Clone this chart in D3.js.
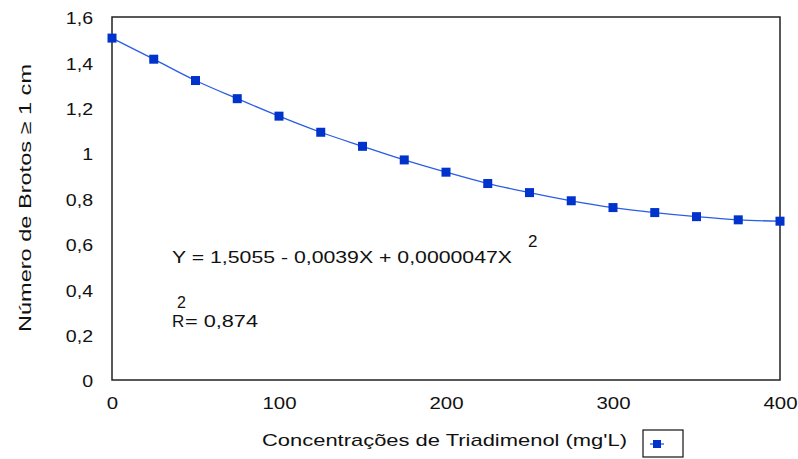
<!DOCTYPE html>
<html><head><meta charset="utf-8">
<script src="https://cdn.jsdelivr.net/npm/d3@7"></script>
<style>body{margin:0;background:#fff}svg{display:block;font-family:"Liberation Sans",Arial,sans-serif}</style>
</head><body><svg id="c" width="798" height="459"></svg>
<script>
const concentrations = [0,25,50,75,100,125,150,175,200,225,250,275,300,325,350,375,400];
const brotos = [1.507,1.414,1.320,1.240,1.163,1.092,1.030,0.970,0.916,0.866,0.826,0.790,0.760,0.738,0.720,0.706,0.700];
const yTicks = [0,0.2,0.4,0.6,0.8,1,1.2,1.4,1.6];
const xTicks = [0,100,200,300,400];

const svg = d3.select("#c");
const L=112,R=780,T=17,B=380;
const x = d3.scaleLinear().domain([0,400]).range([L,R]);
const y = d3.scaleLinear().domain([0,1.6]).range([B,T]);
const fmt = d => String(d).replace(".",",");
const FS = 17;
function stretch(sel, k){ sel.each(function(){ const w=this.getComputedTextLength(); d3.select(this).attr("textLength",w*k).attr("lengthAdjust","spacingAndGlyphs"); }); }

svg.append("rect").attr("x",L).attr("y",T).attr("width",R-L).attr("height",B-T)
  .attr("fill","none").attr("stroke","#222").attr("stroke-width",1.5);

const ya = svg.append("g").attr("transform",`translate(${L},0)`)
  .call(d3.axisLeft(y).tickValues(yTicks).tickFormat(fmt).tickSize(0).tickPadding(19));
ya.select(".domain").remove();
ya.selectAll("text").attr("font-size",FS).attr("fill","#111").attr("font-family","Liberation Sans, Arial, sans-serif").attr("dy","0.4em");
stretch(ya.selectAll("text"),1.15);

const xa = svg.append("g").attr("transform",`translate(0,${B})`)
  .call(d3.axisBottom(x).tickValues(xTicks).tickFormat(fmt).tickSize(0).tickPadding(17));
xa.select(".domain").remove();
xa.selectAll("text").attr("font-size",FS).attr("fill","#111").attr("font-family","Liberation Sans, Arial, sans-serif");
stretch(xa.selectAll("text"),1.2);

const data = concentrations.map((c,i)=>({c,v:brotos[i]}));
svg.append("path").datum(data).attr("fill","none").attr("stroke","#2b5ce6").attr("stroke-width",1.3)
  .attr("d",d3.line().x(d=>x(d.c)).y(d=>y(d.v)).curve(d3.curveMonotoneX));
svg.selectAll("rect.m").data(data).enter().append("rect").attr("class","m")
  .attr("x",d=>x(d.c)-4.5).attr("y",d=>y(d.v)-4.5).attr("width",9).attr("height",9).attr("fill","#0033cc");

function txt(xp,yp,s,len,fs){ const t=svg.append("text").attr("x",xp).attr("y",yp).attr("font-size",fs||FS).attr("fill","#111").text(s);
  if(len) t.attr("textLength",len).attr("lengthAdjust","spacingAndGlyphs"); return t; }

txt(172,263,"Y = 1,5055 - 0,0039X + 0,0000047X",340);
txt(528,247,"2");

txt(172,327,"R");
txt(177,308,"2",null,16);
txt(185,327,"= 0,874",73);

txt(262,446,"Concentrações de Triadimenol (mg'L)",365);
svg.append("text").attr("transform","translate(31,198) rotate(-90)").attr("text-anchor","middle").attr("font-size",FS).attr("fill","#111")
  .attr("textLength",268).attr("lengthAdjust","spacingAndGlyphs")
  .text("Número de Brotos ≥ 1 cm");

svg.append("rect").attr("x",643).attr("y",430).attr("width",40).attr("height",27).attr("fill","#fff").attr("stroke","#111").attr("stroke-width",1.2);
svg.append("line").attr("x1",650).attr("x2",664).attr("y1",444).attr("y2",444).attr("stroke","#2b5ce6").attr("stroke-width",1.3);
svg.append("rect").attr("x",653).attr("y",440).attr("width",8).attr("height",8).attr("fill","#0033cc");
</script></body></html>
